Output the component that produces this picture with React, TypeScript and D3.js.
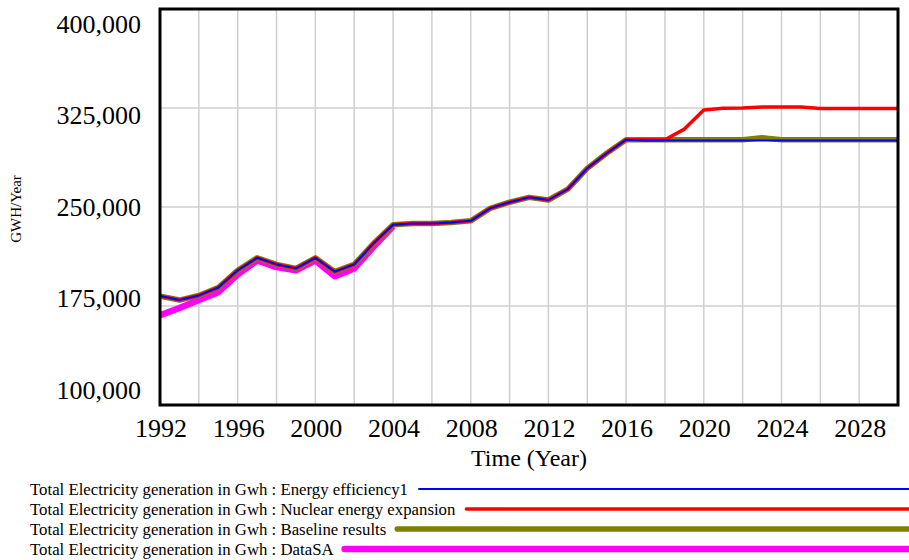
import { useEffect, useRef } from 'react';
import * as d3 from 'd3';

// x categories (years)
const years = [
  1992, 1993, 1994, 1995, 1996, 1997, 1998, 1999, 2000, 2001, 2002, 2003, 2004,
  2005, 2006, 2007, 2008, 2009, 2010, 2011, 2012, 2013, 2014, 2015, 2016, 2017,
  2018, 2019, 2020, 2021, 2022, 2023, 2024, 2025, 2026, 2027, 2028, 2029, 2030,
];

// simulated history shared by the three scenarios (1992-2016), GWh/Year
const modelHistory = [
  182500, 179500, 183000, 189000, 202000, 211500, 206500, 203500, 211500, 201000,
  206500, 222500, 236500, 237500, 237500, 238300, 239500, 249000, 253600, 257300,
  255300, 263600, 279300, 290700, 301000,
];

// scenario projections 2017-2030
const efficiencyFuture = [
  300300, 300300, 300300, 300300, 300300, 300300, 300300, 300300, 300300, 300300,
  300300, 300300, 300300, 300300,
];
const nuclearFuture = [
  301000, 301000, 309000, 323500, 324800, 325000, 325800, 325800, 325800, 324600,
  324600, 324600, 324600, 324600,
];
const baselineFuture = [
  301000, 301000, 301000, 301000, 301000, 301000, 302500, 301000, 301000, 301000,
  301000, 301000, 301000, 301000,
];

// historic data 1992-2004
const dataSA = [
  168000, 173500, 179500, 185500, 199000, 209500, 204500, 202000, 209500, 197500,
  203500, 220000, 235500,
];

const yTicks = [100000, 175000, 250000, 325000, 400000];
const xLabelYears = [1992, 1996, 2000, 2004, 2008, 2012, 2016, 2020, 2024, 2028];
const gridYears = [
  1994, 1996, 1998, 2000, 2002, 2004, 2006, 2008, 2010, 2012, 2014, 2016, 2018,
  2020, 2022, 2024, 2026, 2028,
];

const prefix = 'Total Electricity generation in Gwh : ';
const series = [
  { name: 'DataSA', values: dataSA, color: '#ff00ff', width: 6.5 },
  { name: 'Baseline results', values: modelHistory.concat(baselineFuture), color: '#808000', width: 5.5 },
  { name: 'Nuclear energy expansion', values: modelHistory.concat(nuclearFuture), color: '#ff0000', width: 3.5 },
  { name: 'Energy efficiency1', values: modelHistory.concat(efficiencyFuture), color: '#0000ff', width: 2 },
];
const legendOrder = ['Energy efficiency1', 'Nuclear energy expansion', 'Baseline results', 'DataSA'];

const FONT = '"Liberation Serif", "Times New Roman", serif';

export default function App() {
  const svgRef = useRef<SVGSVGElement>(null);

  useEffect(() => {
    if (!svgRef.current) return;
    const svg = d3.select(svgRef.current);
    svg.selectAll('*').remove();

    const width = 909;
    const height = 560;
    const plot = { left: 160, right: 898, top: 9, bottom: 405 };

    svg.attr('width', width).attr('height', height).attr('viewBox', [0, 0, width, height]);

    const x = d3.scaleLinear().domain([1992, 2030]).range([plot.left, plot.right]);
    const y = d3.scaleLinear().domain([100000, 400000]).range([plot.bottom, plot.top]);
    // Vensim squeezes the value labels inside the frame
    const yLabel = d3.scaleLinear().domain([100000, 400000]).range([390, 24]);

    // grid
    svg.append('g')
      .selectAll('line')
      .data(gridYears)
      .join('line')
      .attr('x1', (d) => x(d)).attr('x2', (d) => x(d))
      .attr('y1', plot.top).attr('y2', plot.bottom)
      .attr('stroke', '#cfcfcf').attr('stroke-width', 1.5);

    svg.append('g')
      .selectAll('line')
      .data(yTicks.slice(1, -1))
      .join('line')
      .attr('x1', plot.left).attr('x2', plot.right)
      .attr('y1', (d) => y(d)).attr('y2', (d) => y(d))
      .attr('stroke', '#cfcfcf').attr('stroke-width', 1.5);

    // series
    const line = d3.line<number>()
      .x((_, i) => x(years[i]))
      .y((d) => y(d));

    svg.append('g')
      .selectAll('path')
      .data(series)
      .join('path')
      .attr('d', (d) => line(d.values))
      .attr('fill', 'none')
      .attr('stroke', (d) => d.color)
      .attr('stroke-width', (d) => d.width)
      .attr('stroke-linejoin', 'round');

    // frame
    svg.append('rect')
      .attr('x', plot.left).attr('y', plot.top)
      .attr('width', plot.right - plot.left).attr('height', plot.bottom - plot.top)
      .attr('fill', 'none').attr('stroke', '#000').attr('stroke-width', 3);

    // y labels
    svg.append('g')
      .selectAll('text')
      .data(yTicks)
      .join('text')
      .attr('x', 141)
      .attr('y', (d) => yLabel(d))
      .attr('dy', '0.33em')
      .attr('text-anchor', 'end')
      .style('font-family', FONT)
      .style('font-size', '26px')
      .text((d) => d3.format(',')(d));

    // x labels
    svg.append('g')
      .selectAll('text')
      .data(xLabelYears)
      .join('text')
      .attr('x', (d) => x(d) + 1)
      .attr('y', 437)
      .attr('text-anchor', 'middle')
      .style('font-family', FONT)
      .style('font-size', '26px')
      .text((d) => d);

    svg.append('text')
      .attr('x', (plot.left + plot.right) / 2)
      .attr('y', 466)
      .attr('text-anchor', 'middle')
      .style('font-family', FONT)
      .style('font-size', '24px')
      .text('Time (Year)');

    svg.append('text')
      .attr('transform', 'translate(21,209) rotate(-90)')
      .attr('text-anchor', 'middle')
      .style('font-family', FONT)
      .style('font-size', '15px')
      .text('GWH/Year');

    // legend
    const legend = svg.append('g');
    legendOrder.forEach((name, i) => {
      const s = series.find((d) => d.name === name)!;
      const cy = 489 + i * 20;
      const t = legend.append('text')
        .attr('x', 30)
        .attr('y', cy)
        .attr('dy', '0.34em')
        .style('font-family', FONT)
        .style('font-size', '16.8px')
        .text(prefix + name);
      const end = 30 + (t.node() as SVGTextElement).getComputedTextLength();
      legend.append('line')
        .attr('x1', end + 11).attr('x2', width + 5)
        .attr('y1', cy).attr('y2', cy)
        .attr('stroke', s.color)
        .attr('stroke-width', s.width)
        .attr('stroke-linecap', 'round');
    });
  }, []);

  return (
    <div style={{ position: 'absolute', left: 0, top: 0 }}>
      <svg ref={svgRef}></svg>
    </div>
  );
}
